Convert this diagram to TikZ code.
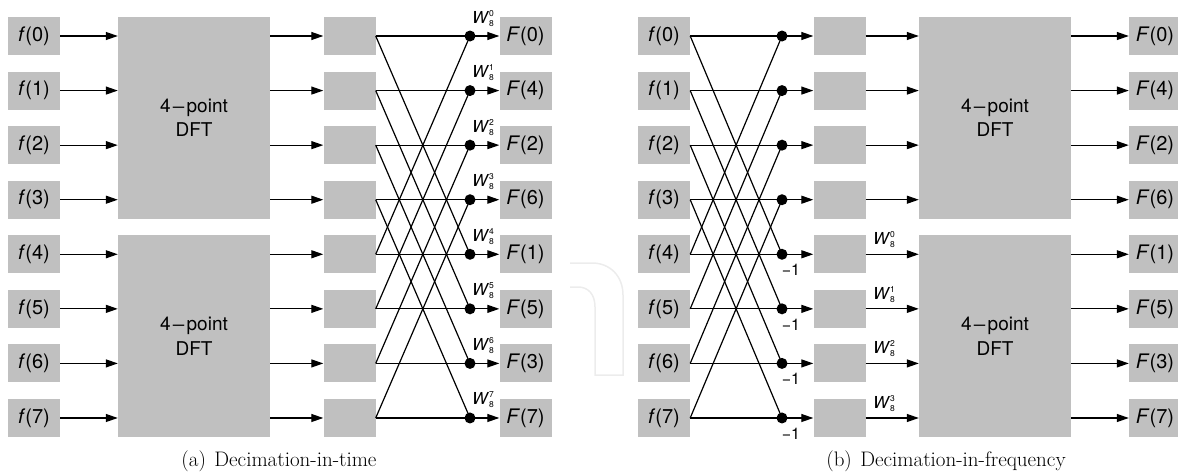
\documentclass[tikz,border=0pt]{standalone}
\usepackage{fontspec}
\newfontfamily\hv{TeX Gyre Heros}
\usetikzlibrary{arrows.meta}
\definecolor{boxgray}{RGB}{192,192,192}
\definecolor{wmgray}{RGB}{236,236,236}
\newcommand\Wk[1]{\textit{W}\rlap{\raisebox{7pt}{\fontsize{8.5}{9}\selectfont #1}}\raisebox{-3pt}{\fontsize{8.5}{9}\selectfont 8}}
\newcommand\lmin{\kern0.5pt\scalebox{1.35}[1]{−}\kern0.5pt}
\tikzset{
  gbox/.style={fill=boxgray, draw=none, minimum width=52pt, minimum height=38pt, inner sep=0pt, font=\hv\fontsize{20}{22}\selectfont},
  dftbox/.style={fill=boxgray, draw=none, minimum width=152pt, minimum height=201.7pt, inner sep=0pt, align=center, font=\hv\fontsize{19}{24.4}\selectfont},
  jdot/.style={circle, fill=black, minimum size=11pt, inner sep=0pt},
  wire/.style={line width=1.2pt},
  arr/.style={wire, -{Triangle[length=12pt,width=8pt]}},
  wlab/.style={inner sep=0pt, font=\hv\fontsize{16.5}{18}\selectfont},
  mlab/.style={inner sep=0pt, font=\hv\fontsize{16}{18}\selectfont},
  captext/.style={inner sep=0pt, font=\fontsize{21}{24}\selectfont},
  wm/.style={draw=wmgray, line width=1.5pt}
}
\begin{document}
\begin{tikzpicture}[x=1pt,y=-1pt]
\useasboundingbox (0,0) rectangle (1178,474);
% faint watermark
\draw[wm] (570,263) -- (592,263) .. controls (610,263) and (623,276) .. (623,295) -- (623,375) -- (595,375) -- (595,307) .. controls (595,294) and (588,287) .. (578,287) -- (570,287);
% ---------- nodes
\node[dftbox] (adft1) at (194,117.9) {4\lmin point\\DFT};
\node[dftbox] (adft2) at (194,336.1) {4\lmin point\\DFT};
\node[dftbox] (bdft1) at (995,117.9) {4\lmin point\\DFT};
\node[dftbox] (bdft2) at (995,336.1) {4\lmin point\\DFT};
\foreach \i/\k in {0/0,1/4,2/2,3/6,4/1,5/5,6/3,7/7} {
  \pgfmathsetmacro\yy{36+54.57*\i}
  \node[gbox] (af\i) at (34,\yy) {\textit{f}(\i)};
  \node[gbox] (as\i) at (349.5,\yy) {};
  \node[jdot] (ad\i) at (470,\yy) {};
  \node[gbox] (aF\i) at (525.5,\yy) {\textit{F}(\k)};
  \node[wlab, anchor=base] (aw\i) at (483,{\yy-13}) {\Wk{\i}};
  \node[gbox] (bf\i) at (664,\yy) {\textit{f}(\i)};
  \node[jdot] (bd\i) at (782,\yy) {};
  \node[gbox] (bs\i) at (839.5,\yy) {};
  \node[gbox] (bF\i) at (1155,\yy) {\textit{F}(\k)};
}
\foreach \i in {4,...,7} {
  \pgfmathsetmacro\yy{36+54.57*\i}
  \pgfmathtruncatemacro\kk{\i-4}
  \node[wlab, anchor=base] (bw\i) at (884,{\yy-9.5}) {\Wk{\kk}};
  \node[mlab] (bm\i) at (791,{\yy+15.5}) {−1};
}
% ---------- connectors
\foreach \i in {0,...,7} {
  \pgfmathtruncatemacro\j{mod(\i+4,8)}
  \pgfmathtruncatemacro\b{\i<4 ? 1 : 2}
  % (a)
  \draw[arr] (af\i.east) -- (af\i.east -| adft\b.west);
  \draw[arr] (as\i.west -| adft\b.east) -- (as\i.west);
  \draw[wire] (as\i.east) -- (ad\i.center);
  \draw[wire] (as\i.east) -- (ad\j.center);
  \draw[arr] (ad\i.center) -- (aF\i.west);
  % (b)
  \draw[wire] (bf\i.east) -- (bd\i.center);
  \draw[wire] (bf\i.east) -- (bd\j.center);
  \draw[arr] (bd\i.center) -- (bs\i.west);
  \draw[arr] (bs\i.east) -- (bs\i.east -| bdft\b.west);
  \draw[arr] (bF\i.west -| bdft\b.east) -- (bF\i.west);
}
% captions
\node[captext, anchor=base] (capa) at (279,466) {(a)\hspace{0.4em}Decimation-in-time};
\node[captext, anchor=base] (capb) at (946,466) {(b)\hspace{0.4em}Decimation-in-frequency};
\end{tikzpicture}
\end{document}
